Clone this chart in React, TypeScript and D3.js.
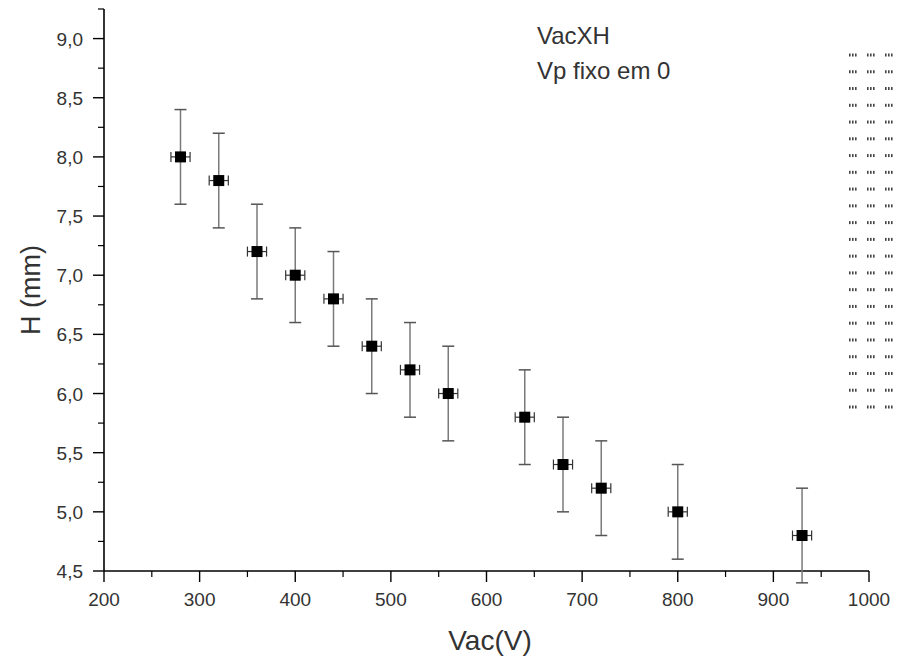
import React, { useEffect } from "react";
import * as d3 from "d3";

const vac = [280, 320, 360, 400, 440, 480, 520, 560, 640, 680, 720, 800, 930];
const h = [8.0, 7.8, 7.2, 7.0, 6.8, 6.4, 6.2, 6.0, 5.8, 5.4, 5.2, 5.0, 4.8];
const hErr = [0.4, 0.4, 0.4, 0.4, 0.4, 0.4, 0.4, 0.4, 0.4, 0.4, 0.4, 0.4, 0.4];
const vacErr = [10, 10, 10, 10, 10, 10, 10, 10, 10, 10, 10, 10, 10];
const xTicks = [200, 300, 400, 500, 600, 700, 800, 900, 1000];
const yTicks = [4.5, 5.0, 5.5, 6.0, 6.5, 7.0, 7.5, 8.0, 8.5, 9.0];
const annotation = ["VacXH", "Vp fixo em 0"];
const legendRows = 22;
const legendCols = 3;

const W = 897;
const H = 660;
const FONT = "'Liberation Sans', Arial, sans-serif";

export default function App() {
  useEffect(() => {
    document.body.style.margin = "0";
  }, []);

  const x = d3.scaleLinear().domain([200, 1000]).range([104, 869]);
  const y = d3.scaleLinear().domain([4.5, 9.25]).range([571, 9]);

  const xMinor = d3.range(250, 1000, 100);
  const yMinor = d3.range(4.75, 9.3, 0.5);
  const fmt = (v: number) => v.toFixed(1).replace(".", ",");

  const rowY = d3.scaleLinear().domain([0, legendRows - 1]).range([55, 407]);
  const colX = d3.scaleLinear().domain([0, 2]).range([849, 885]);

  return (
    <svg width={W} height={H} style={{ display: "block", background: "#fff" }} fontFamily={FONT}>
      {/* axes */}
      <line x1={x(200)} x2={x(1000)} y1={571} y2={571} stroke="#000" strokeWidth={1.6} />
      <line x1={104} x2={104} y1={y(9.25)} y2={571} stroke="#000" strokeWidth={1.6} />
      {xTicks.map((t) => (
        <g key={"xt" + t}>
          <line x1={x(t)} x2={x(t)} y1={571} y2={582} stroke="#000" strokeWidth={1.4} />
          <text x={x(t)} y={606} textAnchor="middle" fontSize={19} fill="#333">{t}</text>
        </g>
      ))}
      {xMinor.map((t) => (
        <line key={"xm" + t} x1={x(t)} x2={x(t)} y1={571} y2={577} stroke="#000" strokeWidth={1.2} />
      ))}
      {yTicks.map((t) => (
        <g key={"yt" + t}>
          <line x1={93} x2={104} y1={y(t)} y2={y(t)} stroke="#000" strokeWidth={1.4} />
          <text x={83} y={y(t) + 7} textAnchor="end" fontSize={19} fill="#333">{fmt(t)}</text>
        </g>
      ))}
      {yMinor.map((t) => (
        <line key={"ym" + t} x1={98} x2={104} y1={y(t)} y2={y(t)} stroke="#000" strokeWidth={1.2} />
      ))}
      <text x={490} y={650} textAnchor="middle" fontSize={28} fill="#333">Vac(V)</text>
      <text transform={`translate(40,290) rotate(-90)`} textAnchor="middle" fontSize={27} fill="#333">H (mm)</text>

      {/* error bars */}
      {vac.map((v, i) => {
        const cx = x(v);
        const cy = y(h[i]);
        const yt = y(h[i] + hErr[i]);
        const yb = y(h[i] - hErr[i]);
        const xl = x(v - vacErr[i]);
        const xr = x(v + vacErr[i]);
        return (
          <g key={"e" + i}>
            <line x1={cx} x2={cx} y1={yt} y2={yb} stroke="#7a7a7a" strokeWidth={1.5} />
            <line x1={cx - 6} x2={cx + 6} y1={yt} y2={yt} stroke="#555" strokeWidth={1.5} />
            <line x1={cx - 6} x2={cx + 6} y1={yb} y2={yb} stroke="#555" strokeWidth={1.5} />
            <line x1={xl} x2={xr} y1={cy} y2={cy} stroke="#333" strokeWidth={1.2} />
            <line x1={xl} x2={xl} y1={cy - 5} y2={cy + 5} stroke="#333" strokeWidth={1.2} />
            <line x1={xr} x2={xr} y1={cy - 5} y2={cy + 5} stroke="#333" strokeWidth={1.2} />
            <rect x={cx - 5.5} y={cy - 5.5} width={11} height={11} fill="#000" />
          </g>
        );
      })}

      {/* annotation */}
      {annotation.map((t, i) => (
        <text key={t} x={537} y={44 + i * 35} fontSize={24} fill="#333">{t}</text>
      ))}

      {/* garbled legend dots */}
      {d3.range(legendRows).map((r) =>
        d3.range(legendCols).map((c) =>
          d3.range(3).map((k) => (
            <rect
              key={`d${r}-${c}-${k}`}
              x={colX(c) + k * 3}
              y={rowY(r) - 1.5}
              width={1.6}
              height={3}
              fill="#444"
            />
          ))
        )
      )}
    </svg>
  );
}
